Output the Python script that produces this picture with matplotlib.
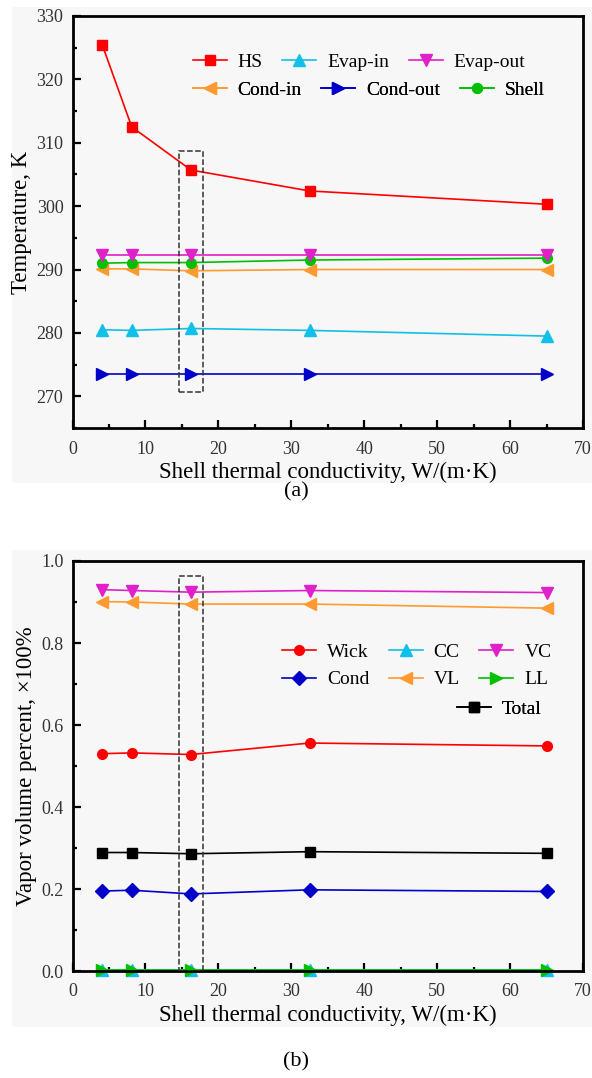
import matplotlib
matplotlib.use("Agg")
import matplotlib.pyplot as plt
from matplotlib.patches import Rectangle
from matplotlib.ticker import MultipleLocator

plt.rcParams['font.family'] = ['Liberation Serif', 'DejaVu Serif']

# shell thermal conductivity, W/(m K)
k_shell = [4.0625, 8.125, 16.25, 32.5, 65]

# (a) temperatures, K
t_hs = [325.5, 312.5, 305.7, 302.4, 300.3]
t_evap_in = [280.5, 280.4, 280.7, 280.4, 279.5]
t_evap_out = [292.3, 292.3, 292.3, 292.3, 292.3]
t_cond_in = [290.1, 290.1, 289.8, 290.0, 290.0]
t_cond_out = [273.5, 273.5, 273.5, 273.5, 273.5]
t_shell = [291.0, 291.1, 291.1, 291.5, 291.8]

# (b) vapor volume fraction
v_wick = [0.530, 0.532, 0.528, 0.556, 0.549]
v_cc = [0.003, 0.003, 0.003, 0.003, 0.003]
v_vc = [0.930, 0.928, 0.924, 0.928, 0.923]
v_cond = [0.195, 0.197, 0.188, 0.198, 0.194]
v_vl = [0.901, 0.900, 0.895, 0.895, 0.885]
v_ll = [0.002, 0.002, 0.002, 0.002, 0.002]
v_total = [0.289, 0.289, 0.286, 0.291, 0.287]

RED = '#ff0000'
CYAN = '#10c0e8'
MAGENTA = '#e020c8'
ORANGE = '#ff9a30'
BLUE = '#0000c8'
GREEN = '#00c000'
BG = '#f7f7f7'

W, H = 592, 1078
fig = plt.figure(figsize=(W / 100, H / 100), dpi=100)
fig.patch.set_facecolor('white')

# light grey panel backgrounds
for top, bot in [(7, 483), (550, 1027)]:
    fig.patches.append(Rectangle((12 / W, 1 - bot / H), 1 - 12 / W, (bot - top) / H,
                                 transform=fig.transFigure, fc=BG, ec='none',
                                 zorder=-10))


def px(x, y):
    # pixel position (from top-left) -> figure fraction
    return (x / W, 1 - y / H)


def style_axes(ax):
    ax.set_facecolor(BG)
    for s in ax.spines.values():
        s.set_linewidth(2.0)
    ax.tick_params(which='both', direction='in', top=False, right=False,
                   labelsize=13, labelcolor='#333333', width=1.6)
    ax.tick_params(which='major', length=6)
    ax.tick_params(which='minor', length=3)
    ax.tick_params(axis='x', pad=9)
    ax.tick_params(axis='y', pad=6.5)
    ax.set_xlim(0, 70)
    ax.xaxis.set_major_locator(MultipleLocator(10))
    ax.xaxis.set_minor_locator(MultipleLocator(5))
    ax.set_xlabel('Shell thermal conductivity, W/(m·K)', fontsize=16.5, labelpad=3)


def line(ax, y, color, marker, label, ms=7):
    return ax.plot(k_shell, y, color=color, marker=marker, markersize=ms,
                   linewidth=1.2, label=label, clip_on=False)[0]


def row_legend(ax, handles, labels, x, y, ncol=None):
    leg = ax.legend(handles, labels, ncol=ncol or len(handles), frameon=False,
                    fontsize=14, loc='center left', bbox_to_anchor=px(x, y),
                    bbox_transform=fig.transFigure, handlelength=1.75,
                    handletextpad=0.57, columnspacing=1.0, labelspacing=0.5,
                    borderpad=0, borderaxespad=0)
    ax.add_artist(leg)
    return leg


# ---- panel (a)
ax1 = fig.add_axes([72.5 / W, 1 - 428 / H, 510.5 / W, 412 / H])
style_axes(ax1)
ax1.set_ylim(265, 330)
ax1.yaxis.set_major_locator(MultipleLocator(10))
ax1.yaxis.set_minor_locator(MultipleLocator(5))
ax1.set_ylabel('Temperature, K', fontsize=16.5, labelpad=3)

h_hs = line(ax1, t_hs, RED, 's', 'HS')
h_ei = line(ax1, t_evap_in, CYAN, '^', 'Evap-in', 8)
h_co = line(ax1, t_cond_out, BLUE, '>', 'Cond-out', 8)
h_ci = line(ax1, t_cond_in, ORANGE, '<', 'Cond-in', 8)
h_sh = line(ax1, t_shell, GREEN, 'o', 'Shell')
h_eo = line(ax1, t_evap_out, MAGENTA, 'v', 'Evap-out', 8)

ax1.add_patch(Rectangle((14.6, 270.7), 3.3, 38.0, fill=False, ls='--',
                        lw=1.1, ec='#333333', zorder=5))
row_legend(ax1, [h_hs, h_ei, h_eo], ['HS', 'Evap-in', 'Evap-out'], 192.5, 62)
row_legend(ax1, [h_ci, h_co, h_sh], ['Cond-in', 'Cond-out', 'Shell'], 192.5, 90)

# ---- panel (b)
ax2 = fig.add_axes([72.5 / W, 1 - 971 / H, 510.5 / W, 410 / H])
style_axes(ax2)
ax2.set_ylim(0, 1.0)
ax2.yaxis.set_major_locator(MultipleLocator(0.2))
ax2.yaxis.set_minor_locator(MultipleLocator(0.1))
ax2.yaxis.set_major_formatter(lambda v, p: f'{v:.1f}')
ax2.set_ylabel('Vapor volume percent, ×100%', fontsize=16.5, labelpad=3)

h_wick = line(ax2, v_wick, RED, 'o', 'Wick')
h_total = line(ax2, v_total, 'black', 's', 'Total')
h_cond = line(ax2, v_cond, BLUE, 'D', 'Cond')
h_vl = line(ax2, v_vl, ORANGE, '<', 'VL', 8)
h_vc = line(ax2, v_vc, MAGENTA, 'v', 'VC', 8)
h_cc = line(ax2, v_cc, CYAN, '^', 'CC', 8)
h_ll = line(ax2, v_ll, GREEN, '>', 'LL', 8)

ax2.add_patch(Rectangle((14.6, 0.0), 3.3, 0.963, fill=False, ls='--',
                        lw=1.1, ec='#333333', zorder=5))
row_legend(ax2, [h_wick, h_cond, h_cc, h_vl, h_vc, h_ll],
           ['Wick', 'Cond', 'CC', 'VL', 'VC', 'LL'], 281.7, 666, ncol=3)
row_legend(ax2, [h_total], ['Total'], 456.7, 709)

fig.text(0.5, 1 - 492 / H, '(a)', ha='center', va='center', fontsize=16)
fig.text(0.5, 1 - 1062 / H, '(b)', ha='center', va='center', fontsize=16)

fig.savefig('out.png', dpi=100)
